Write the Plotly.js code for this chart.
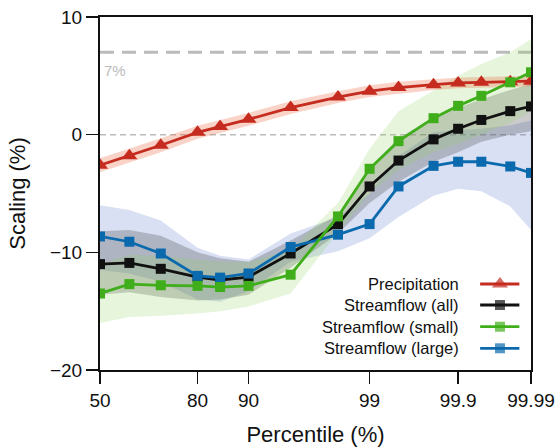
<!DOCTYPE html>
<html>
<head>
<meta charset="utf-8">
<script src="https://cdn.plot.ly/plotly-3.0.1.min.js"></script>
<style>html,body{margin:0;padding:0;background:#fff;}#chart{width:559px;height:447px;}</style>
</head>
<body>
<div id="chart"></div>
<script>
// ---- data ----
const percentiles = [50, 60, 70, 80, 85, 90, 95, 98, 99, 99.5, 99.8, 99.9, 99.95, 99.98, 99.99];
const tickPercentiles = [50, 80, 90, 99, 99.9, 99.99];
const tickLabels = ["50", "80", "90", "99", "99.9", "99.99"];

const precip      = [-2.6, -1.8, -0.9, 0.2, 0.7, 1.3, 2.3, 3.2, 3.7, 4.0, 4.25, 4.4, 4.45, 4.5, 4.55];
const precipUpper = [-2.0, -1.2, -0.3, 0.75, 1.25, 1.85, 2.85, 3.7, 4.2, 4.5, 4.7, 4.85, 4.9, 4.95, 5.0];
const precipLower = [-3.2, -2.4, -1.5, -0.35, 0.15, 0.75, 1.75, 2.7, 3.2, 3.5, 3.8, 3.95, 4.0, 4.05, 4.1];

const sfAll       = [-11.0, -10.9, -11.4, -12.1, -12.35, -12.1, -10.1, -7.6, -4.4, -2.2, -0.4, 0.5, 1.25, 2.0, 2.4];
const sfAllUpper  = [-8.2, -8.1, -8.6, -10.0, -10.5, -10.8, -9.0, -6.8, -2.8, -0.3, 1.5, 2.3, 3.0, 3.8, 4.3];
const sfAllLower  = [-13.6, -13.4, -13.8, -14.1, -14.0, -13.6, -11.3, -8.4, -5.8, -4.0, -2.3, -1.5, -0.6, 0.0, 0.3];

const sfSmall      = [-13.5, -12.7, -12.8, -12.85, -12.95, -12.85, -11.9, -6.95, -2.9, -0.55, 1.4, 2.45, 3.3, 4.45, 5.3];
const sfSmallUpper = [-11.0, -10.2, -10.3, -10.6, -10.8, -10.8, -9.8, -5.8, -1.2, 2.0, 3.8, 5.0, 6.0, 7.0, 8.1];
const sfSmallLower = [-16.0, -15.5, -15.4, -15.2, -15.0, -14.6, -13.5, -8.3, -5.0, -3.0, -1.5, -0.8, 0.0, 1.0, 2.0];

const sfLarge      = [-8.65, -9.1, -10.1, -12.0, -12.15, -11.8, -9.55, -8.5, -7.6, -4.4, -2.65, -2.3, -2.3, -2.7, -3.25];
const sfLargeUpper = [-6.0, -6.4, -7.3, -9.6, -10.3, -10.6, -8.4, -7.0, -5.0, -1.8, 0.2, 0.4, 0.5, 0.8, 1.2];
const sfLargeLower = [-11.5, -11.8, -12.5, -14.0, -14.2, -13.3, -10.8, -9.9, -8.8, -7.0, -5.2, -4.6, -4.8, -6.1, -8.1];

const referenceLevel = 7;   // dashed 7% line
const seriesNames = ["Precipitation", "Streamflow (all)", "Streamflow (small)", "Streamflow (large)"];

// ---- probit (normal quantile) scale for the percentile axis ----
function probit(p) {
  const a = [-3.969683028665376e+01, 2.209460984245205e+02, -2.759285104469687e+02, 1.383577518672690e+02, -3.066479806614716e+01, 2.506628277386758e+00];
  const b = [-5.447609879822406e+01, 1.615858368580409e+02, -1.556989798598866e+02, 6.680131188771972e+01, -1.328068155288572e+01];
  const c = [-7.784894002430293e-03, -3.223964580411365e-01, -2.400758277161838e+00, -2.549732953214422e+00, 4.374664141464968e+00, 2.938163982698783e+00];
  const d = [7.784695709041462e-03, 3.224671290700398e-01, 2.445134137142996e+00, 3.754408661907416e+00];
  const plow = 0.02425, phigh = 1 - plow;
  let q, r;
  if (p < plow) {
    q = Math.sqrt(-2 * Math.log(p));
    return (((((c[0]*q+c[1])*q+c[2])*q+c[3])*q+c[4])*q+c[5]) / ((((d[0]*q+d[1])*q+d[2])*q+d[3])*q+1);
  } else if (p <= phigh) {
    q = p - 0.5; r = q*q;
    return (((((a[0]*r+a[1])*r+a[2])*r+a[3])*r+a[4])*r+a[5])*q / (((((b[0]*r+b[1])*r+b[2])*r+b[3])*r+b[4])*r+1);
  } else {
    q = Math.sqrt(-2 * Math.log(1 - p));
    return -(((((c[0]*q+c[1])*q+c[2])*q+c[3])*q+c[4])*q+c[5]) / ((((d[0]*q+d[1])*q+d[2])*q+d[3])*q+1);
  }
}
const xs = percentiles.map(p => probit(p / 100));
const tickXs = tickPercentiles.map(p => probit(p / 100));

const FONT = "Liberation Sans, Arial, Helvetica, sans-serif";
const colors = {
  precip: "#c62b1f", all: "#111111", small: "#3fae1a", large: "#0a6aad"
};
const bandColors = {
  precip: "rgba(235,110,70,0.30)", all: "rgba(70,70,70,0.28)",
  small: "rgba(140,210,90,0.22)", large: "rgba(95,125,210,0.24)"
};

function band(upper, lower, color) {
  return {
    x: xs.concat(xs.slice().reverse()),
    y: upper.concat(lower.slice().reverse()),
    type: "scatter", mode: "lines", fill: "toself", fillcolor: color,
    line: {width: 0}, hoverinfo: "skip", showlegend: false
  };
}
function series(y, color, symbol, size, name) {
  return {
    x: xs, y: y, type: "scatter", mode: "lines+markers", name: name,
    line: {color: color, width: 2.8},
    marker: {color: color, symbol: symbol, size: size, line: {width: 0}},
    showlegend: false
  };
}

const traces = [
  band(sfLargeUpper, sfLargeLower, bandColors.large),
  band(sfAllUpper, sfAllLower, bandColors.all),
  band(sfSmallUpper, sfSmallLower, bandColors.small),
  band(precipUpper, precipLower, bandColors.precip),
  series(precip, colors.precip, "triangle-up", 14, seriesNames[0]),
  series(sfAll, colors.all, "square", 10, seriesNames[1]),
  series(sfLarge, colors.large, "square", 10, seriesNames[3]),
  series(sfSmall, colors.small, "square", 10, seriesNames[2])
];

// ---- custom legend (text on the left, sample on the right) ----
const legendRowsY = [0.2436, 0.1841, 0.1227, 0.0615];
const legendSymbols = ["triangle-up", "square", "square", "square"];
const legendColors = [colors.precip, colors.all, colors.small, colors.large];
const annotations = [];
seriesNames.forEach((nm, i) => {
  traces.push({
    x: [0.882, 0.928, 0.973], y: [legendRowsY[i], legendRowsY[i], legendRowsY[i]],
    xaxis: "x2", yaxis: "y2", type: "scatter", mode: "lines+markers",
    line: {color: legendColors[i], width: 2.8},
    marker: {color: legendColors[i], symbol: legendSymbols[i], size: [0, i === 0 ? 14 : 10, 0], line: {width: 0}},
    showlegend: false, hoverinfo: "skip"
  });
  annotations.push({
    xref: "paper", yref: "paper", x: 0.838, y: legendRowsY[i],
    xanchor: "right", yanchor: "middle", showarrow: false, text: nm,
    font: {family: FONT, size: 16.5, color: "#111"}
  });
});
annotations.push({
  xref: "paper", yref: "y", x: 0.004, y: referenceLevel, xanchor: "left", yanchor: "top",
  yshift: -8, showarrow: false, text: referenceLevel + "%",
  font: {family: FONT, size: 15, color: "#bbbbbb"}
});

const layout = {
  width: 559, height: 447,
  margin: {l: 100, r: 28, t: 17, b: 77},
  paper_bgcolor: "#fff", plot_bgcolor: "#fff",
  font: {family: FONT, size: 19, color: "#111"},
  showlegend: false,
  xaxis: {
    range: [probit(0.5), probit(0.9999)], tickvals: tickXs, ticktext: tickLabels,
    showgrid: false, zeroline: false, showline: true, linecolor: "#111", linewidth: 2,
    mirror: true, ticks: "outside", ticklen: 12, tickwidth: 1.5, tickcolor: "#111",
    tickfont: {family: FONT, size: 19, color: "#111"},
    title: {text: "Percentile (%)", font: {family: FONT, size: 22, color: "#111"}, standoff: 20}
  },
  yaxis: {
    range: [-20, 10], tickvals: [-20, -10, 0, 10],
    showgrid: false, zeroline: false, showline: true, linecolor: "#111", linewidth: 2,
    mirror: true, ticks: "outside", ticklen: 12, tickwidth: 1.5, tickcolor: "#111",
    tickfont: {family: FONT, size: 19, color: "#111"},
    title: {text: "Scaling (%)", font: {family: FONT, size: 22, color: "#111"}, standoff: 18}
  },
  xaxis2: {overlaying: "x", range: [0, 1], visible: false, fixedrange: true},
  yaxis2: {overlaying: "y", range: [0, 1], visible: false, fixedrange: true},
  shapes: [
    {type: "line", xref: "paper", yref: "y", x0: 0, x1: 1, y0: referenceLevel, y1: referenceLevel,
     line: {color: "#bbbbbb", width: 3, dash: "14px,8px"}, layer: "below"},
    {type: "line", xref: "paper", yref: "y", x0: 0, x1: 1, y0: 0, y1: 0,
     line: {color: "#bbbbbb", width: 1.5, dash: "6px,4px"}, layer: "below"}
  ],
  annotations: annotations
};

Plotly.newPlot("chart", traces, layout, {displayModeBar: false, staticPlot: true});
</script>
</body>
</html>
